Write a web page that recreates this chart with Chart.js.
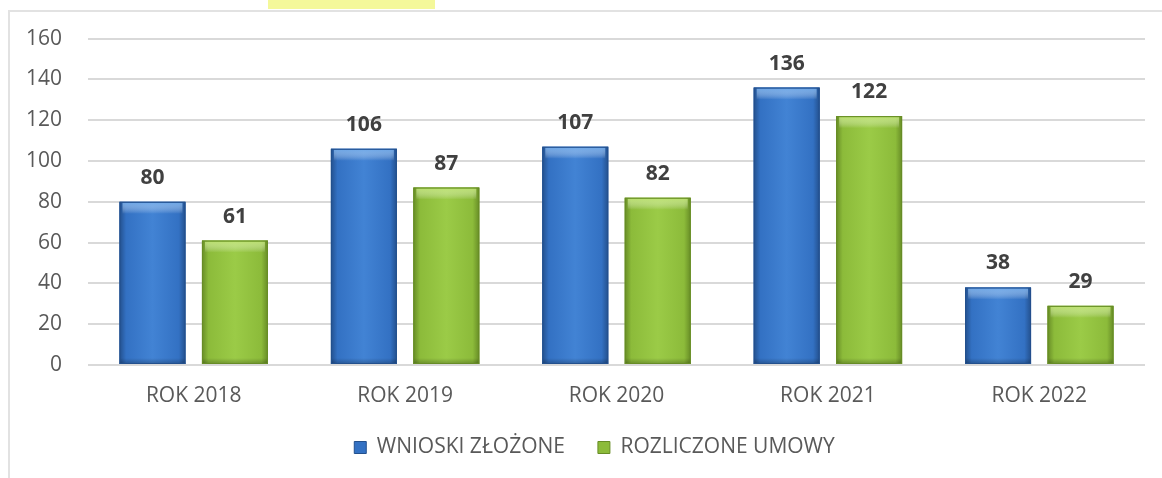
<!DOCTYPE html>
<html>
<head>
<meta charset="utf-8">
<script src="https://cdn.jsdelivr.net/npm/chart.js@4.4.1/dist/chart.umd.min.js"></script>
<style>
  html, body { margin: 0; padding: 0; background: #fff; }
  #wrap { width: 1162px; height: 478px; position: relative; }
</style>
</head>
<body>
<div id="wrap"><canvas id="chart"></canvas></div>
<script>
  const years      = ['ROK 2018', 'ROK 2019', 'ROK 2020', 'ROK 2021', 'ROK 2022'];
  const wnioski    = [80, 106, 107, 136, 38];
  const rozliczone = [61, 87, 82, 122, 29];
  const seriesNames = ['WNIOSKI ZŁOŻONE', 'ROZLICZONE UMOWY'];

  const FONT = "'Open Sans', 'DejaVu Sans', sans-serif";
  const palettes = [
    { main: '#3371c3', edge: '#23508d', light: '#4283d4', top: 'rgba(110,170,235,0.9)' },
    { main: '#8cbb3a', edge: '#678c26', light: '#9bcb47', top: 'rgba(190,228,110,0.9)' }
  ];

  // light frame + yellow marker from the scanned page
  const framePlugin = {
    id: 'frame',
    beforeDraw(chart) {
      const ctx = chart.ctx;
      ctx.save();
      ctx.fillStyle = '#fff';
      ctx.fillRect(0, 0, chart.width, chart.height);
      ctx.fillStyle = 'rgba(240,245,120,0.75)';
      ctx.fillRect(268, 0, 167, 9);
      ctx.strokeStyle = '#e2e2e2';
      ctx.lineWidth = 2;
      ctx.beginPath();
      ctx.moveTo(9, chart.height);
      ctx.lineTo(9, 11);
      ctx.lineTo(chart.width, 11);
      ctx.stroke();
      ctx.restore();
    },
    afterLayout(chart) {
      // legend sits a bit right of centre in the original
      if (chart.legend) { chart.legend.left += 17; chart.legend.right += 17; }
    }
  };

  // 3D-ish shading over each bar, using the element positions from the library
  const shadePlugin = {
    id: 'shade',
    afterDatasetsDraw(chart) {
      const ctx = chart.ctx;
      chart.data.datasets.forEach((ds, di) => {
        const pal = palettes[di];
        chart.getDatasetMeta(di).data.forEach(bar => {
          const { x, y, base, width } = bar.getProps(['x', 'y', 'base', 'width'], true);
          const l = x - width / 2, h = base - y;
          ctx.save();
          const g = ctx.createLinearGradient(l, 0, l + width, 0);
          g.addColorStop(0, pal.edge);
          g.addColorStop(0.1, pal.main);
          g.addColorStop(0.5, pal.light);
          g.addColorStop(0.9, pal.main);
          g.addColorStop(1, pal.edge);
          ctx.fillStyle = g;
          ctx.fillRect(l, y, width, h);
          const t = ctx.createLinearGradient(0, y, 0, y + 12);
          t.addColorStop(0, pal.top);
          t.addColorStop(1, 'rgba(255,255,255,0)');
          ctx.fillStyle = t;
          ctx.fillRect(l + 3, y + 1, width - 6, 12);
          const b = ctx.createLinearGradient(0, base - 6, 0, base);
          b.addColorStop(0, 'rgba(0,0,0,0)');
          b.addColorStop(1, 'rgba(0,0,0,0.25)');
          ctx.fillStyle = b;
          ctx.fillRect(l, base - 6, width, 6);
          ctx.strokeStyle = pal.edge;
          ctx.lineWidth = 1;
          ctx.strokeRect(l + 0.5, y + 0.5, width - 1, h - 1);
          ctx.restore();
        });
      });
    }
  };

  const valuePlugin = {
    id: 'values',
    afterDatasetsDraw(chart) {
      const ctx = chart.ctx;
      ctx.save();
      ctx.font = 'bold 21px ' + FONT;
      ctx.fillStyle = '#404040';
      ctx.textAlign = 'center';
      ctx.textBaseline = 'middle';
      chart.data.datasets.forEach((ds, di) => {
        chart.getDatasetMeta(di).data.forEach((bar, i) => {
          ctx.fillText(String(ds.data[i]), bar.x, bar.y - 24);
        });
      });
      ctx.restore();
    }
  };

  new Chart(document.getElementById('chart'), {
    type: 'bar',
    data: {
      labels: years,
      datasets: [
        { label: seriesNames[0], data: wnioski,    backgroundColor: palettes[0].main, borderWidth: 0 },
        { label: seriesNames[1], data: rozliczone, backgroundColor: palettes[1].main, borderWidth: 0 }
      ]
    },
    options: {
      responsive: true,
      maintainAspectRatio: false,
      animation: false,
      categoryPercentage: 0.78,
      barPercentage: 0.8,
      layout: { padding: { left: 10, right: 17, top: 38, bottom: 10 } },
      plugins: {
        tooltip: { enabled: false },
        legend: {
          position: 'bottom',
          labels: {
            font: { family: FONT, size: 21 },
            color: '#595959',
            boxWidth: 12,
            boxHeight: 12,
            padding: 22,
            generateLabels: chart => chart.data.datasets.map((ds, i) => ({
              text: ds.label + (i === 0 ? '  ' : ''),
              fillStyle: palettes[i].main,
              strokeStyle: palettes[i].edge,
              lineWidth: 1,
              fontColor: '#595959',
              datasetIndex: i
            }))
          }
        }
      },
      scales: {
        x: {
          grid: { display: false, drawTicks: false },
          border: { display: false },
          ticks: { font: { family: FONT, size: 21 }, color: '#595959', padding: 18 },
          afterFit: s => { s.height = 50; }
        },
        y: {
          min: 0,
          max: 160,
          grid: { color: '#d9d9d9', lineWidth: 2, drawTicks: false },
          border: { display: false },
          ticks: { stepSize: 20, font: { family: FONT, size: 21 }, color: '#595959', padding: 26 },
          afterFit: s => { s.width = 78; }
        }
      }
    },
    plugins: [framePlugin, shadePlugin, valuePlugin]
  });
</script>
</body>
</html>
